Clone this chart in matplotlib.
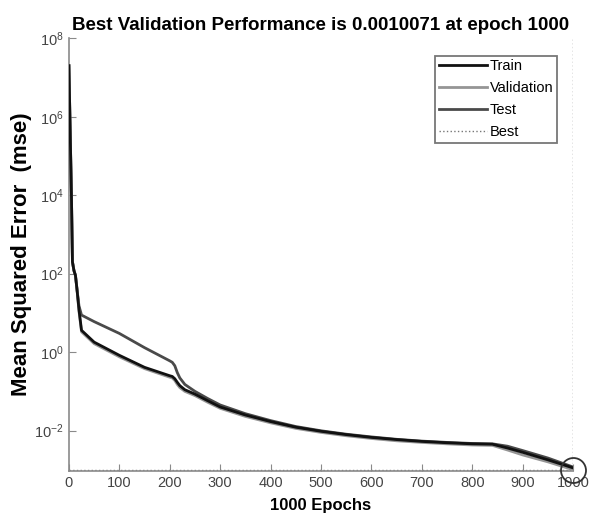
import matplotlib
matplotlib.use('Agg')
import matplotlib.pyplot as plt
from matplotlib.ticker import LogLocator, NullLocator

plt.rcParams['font.family'] = ['Liberation Sans', 'DejaVu Sans']
plt.rcParams['mathtext.fontset'] = 'custom'
plt.rcParams['mathtext.rm'] = 'Liberation Sans'

# values
ep_train = [0, 3, 5, 7, 10, 13, 16, 20, 25, 50, 100, 150, 200, 205, 210, 215, 220, 230, 250, 275,
            300, 350, 400, 450, 500, 550, 600, 650, 700, 750, 800, 840, 870, 900, 950, 1000]
train = [2e7, 2e5, 1e4, 200, 120, 90, 40, 12, 3.6, 1.8, 0.83, 0.41, 0.25, 0.24, 0.21, 0.17, 0.14,
         0.11, 0.085, 0.058, 0.04, 0.025, 0.017, 0.0122, 0.0096, 0.0079, 0.0067, 0.0059, 0.0053,
         0.0049, 0.0046, 0.0045, 0.0036, 0.0028, 0.0018, 0.00112]

ep_val = [0, 3, 5, 7, 10, 13, 16, 20, 25, 50, 100, 150, 200, 205, 210, 215, 220, 230, 250, 275,
          300, 350, 400, 450, 500, 550, 600, 650, 700, 750, 800, 840, 870, 900, 950, 1000]
val = [2e7, 2e5, 1e4, 200, 120, 90, 40, 11, 3.3, 1.65, 0.76, 0.38, 0.23, 0.22, 0.19, 0.15, 0.125,
       0.1, 0.078, 0.053, 0.037, 0.023, 0.0158, 0.0114, 0.009, 0.0074, 0.0063, 0.0055, 0.005,
       0.0046, 0.0043, 0.0042, 0.0032, 0.0024, 0.0016, 0.0010071]

ep_test = [0, 3, 5, 7, 10, 13, 16, 20, 25, 50, 100, 150, 200, 205, 210, 215, 220, 230, 250, 275,
           300, 350, 400, 450, 500, 550, 600, 650, 700, 750, 800, 840, 870, 900, 950, 1000]
test = [2e7, 2e5, 1e4, 200, 120, 90, 40, 15, 8.8, 6.0, 3.0, 1.3, 0.6, 0.55, 0.45, 0.3, 0.22,
        0.15, 0.1, 0.066, 0.045, 0.027, 0.018, 0.0127, 0.0099, 0.0081, 0.0069, 0.006, 0.0054,
        0.005, 0.0047, 0.0046, 0.004, 0.0031, 0.002, 0.00118]

best_epoch = 1000
best_perf = 0.0010071

fig = plt.figure(figsize=(5.89, 5.24), dpi=100)
ax = fig.add_axes([0.117, 0.101, 0.856, 0.826])

ax.plot(ep_test, test, color='#4a4a4a', lw=2, label='Test', zorder=3)
ax.plot(ep_val, val, color='#959595', lw=2, label='Validation', zorder=3)
ax.plot(ep_train, train, color='#111111', lw=2, label='Train', zorder=4)
ax.axvline(best_epoch, color='#777777', ls=':', lw=1, label='Best')
ax.axhline(best_perf, color='#777777', ls=':', lw=1)
ax.plot([best_epoch], [best_perf], 'o', mfc='none', mec='#333333', ms=18, mew=1.3,
        clip_on=False, zorder=5)

ax.set_yscale('log')
ax.set_xlim(0, 1000)
ax.set_ylim(9.3e-4, 1e8)
ax.set_xticks(range(0, 1001, 100))
ax.yaxis.set_major_locator(LogLocator(base=100))
ax.yaxis.set_minor_locator(NullLocator())

for s in ['top', 'right']:
    ax.spines[s].set_visible(False)
for s in ['left', 'bottom']:
    ax.spines[s].set_color('#8a8a8a')
    ax.spines[s].set_linewidth(1.2)
ax.tick_params(direction='in', colors='#8a8a8a', labelcolor='#444444', labelsize=10.5, length=5)

ax.set_title('Best Validation Performance is 0.0010071 at epoch 1000',
             fontsize=13.5, fontweight='bold', pad=6)
ax.set_xlabel('1000 Epochs', fontsize=12, fontweight='bold', labelpad=6)
ax.set_ylabel('Mean Squared Error  (mse)', fontsize=16, fontweight='bold', labelpad=2)

h, l = ax.get_legend_handles_labels()
order = [l.index('Train'), l.index('Validation'), l.index('Test'), l.index('Best')]
leg = ax.legend([h[i] for i in order], [l[i] for i in order], loc='upper right',
                bbox_to_anchor=(0.968, 0.96), borderaxespad=0, fontsize=10.5,
                handlelength=3.3, handletextpad=0.2, labelspacing=0.55, fancybox=False,
                framealpha=1, borderpad=0.25)
leg.get_frame().set_edgecolor('#777777')
leg.get_frame().set_linewidth(1.3)

fig.savefig('out.png', dpi=100)
